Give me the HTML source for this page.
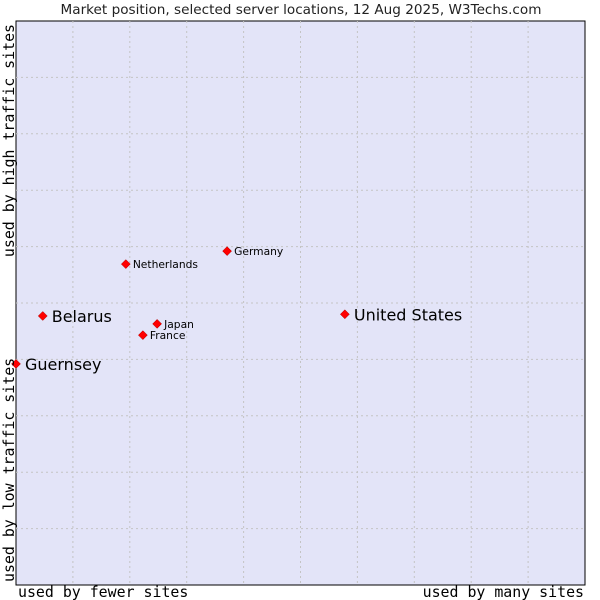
<!DOCTYPE html>
<html><head><meta charset="utf-8"><style>
body{margin:0;background:#fff;}
svg{display:block;font-family:"DejaVu Sans","Liberation Sans",sans-serif;}
.ax{font-family:"DejaVu Sans Mono","Liberation Mono",monospace;font-size:14.9px;fill:#000;}
</style></head><body>
<svg width="600" height="600">
<text x="301" y="14" text-anchor="middle" font-size="13.6" fill="#222">Market position, selected server locations, 12 Aug 2025, W3Techs.com</text>
<rect x="16" y="21" width="569" height="564" fill="#e3e4f8" stroke="#000" stroke-width="1"/>
<g id="grid"></g>
<g id="pts"></g>
<text class="ax" x="18" y="597">used by fewer sites</text>
<text class="ax" x="584" y="597" text-anchor="end">used by many sites</text>
<text class="ax" transform="translate(14,24) rotate(-90)" text-anchor="end">used by high traffic sites</text>
<text class="ax" transform="translate(14,582) rotate(-90)">used by low traffic sites</text>
</svg>
<script>
const names=["Guernsey","Belarus","United States","Netherlands","Germany","Japan","France"];
const xs=[0,0.47,5.78,1.93,3.71,2.48,2.23];
const ys=[3.92,4.77,4.80,5.69,5.92,4.63,4.43];
const big=[true,true,true,false,false,false,false];
const L=16,T=21,W=569,H=564;
const sx=v=>L+v/10*W, sy=v=>T+H-v/10*H;
const NS="http://www.w3.org/2000/svg";
const g=document.getElementById('grid');
for(let i=1;i<10;i++){
 let l=document.createElementNS(NS,'line');
 l.setAttribute('x1',sx(i));l.setAttribute('x2',sx(i));l.setAttribute('y1',T);l.setAttribute('y2',T+H);
 l.setAttribute('stroke','#c4c4c4');l.setAttribute('stroke-dasharray','2,3');
 
 
 g.appendChild(l);
 let m=document.createElementNS(NS,'line');
 m.setAttribute('y1',sy(i));m.setAttribute('y2',sy(i));m.setAttribute('x1',L);m.setAttribute('x2',L+W);
 m.setAttribute('stroke','#c4c4c4');m.setAttribute('stroke-dasharray','2,3');
 
 
 g.appendChild(m);
}
const p=document.getElementById('pts');
names.forEach((n,i)=>{
 const x=sx(xs[i]),y=sy(ys[i]);
 let d=document.createElementNS(NS,'path');
 d.setAttribute('d',`M${x} ${y-4.5}L${x+4.5} ${y}L${x} ${y+4.5}L${x-4.5} ${y}Z`);
 d.setAttribute('fill','#f00');d.setAttribute('stroke','#a00');d.setAttribute('stroke-width','0.5');
 
 
 p.appendChild(d);
 let t=document.createElementNS(NS,'text');
 t.setAttribute('x',x+(big[i]?9:7));t.setAttribute('y',y+(big[i]?6:4));
 t.setAttribute('font-size',big[i]?'16':'10.7');t.setAttribute('fill','#000');
 t.textContent=n;
 
 
 p.appendChild(t);
});
</script>
</body></html>
